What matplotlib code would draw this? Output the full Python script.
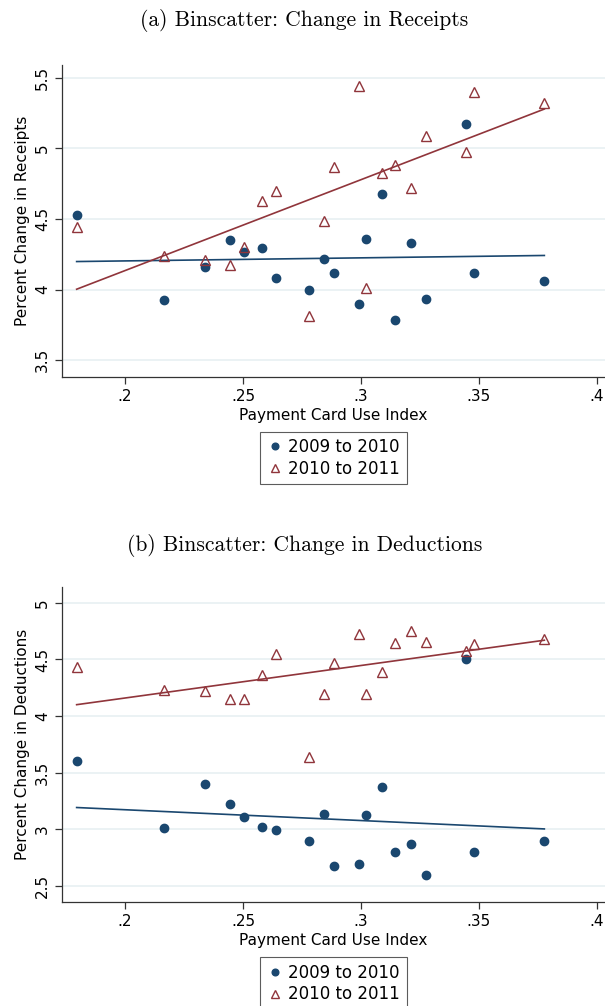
import numpy as np
import matplotlib
matplotlib.use("Agg")
import matplotlib.pyplot as plt

# Bin centers (Payment Card Use Index)
x_bins = [0.1795, 0.2166, 0.2341, 0.2446, 0.2503, 0.2582, 0.2638, 0.2779, 0.2843, 0.2887,
          0.2992, 0.3021, 0.3087, 0.3143, 0.3211, 0.3277, 0.3444, 0.3480, 0.3777]

# Panel (a): Percent change in receipts
receipts_0910 = [4.528, 3.929, 4.158, 4.354, 4.264, 4.292, 4.078, 3.995, 4.217, 4.120,
                 3.899, 4.358, 4.679, 3.783, 4.328, 3.932, 5.175, 4.120, 4.057]
receipts_1011 = [4.446, 4.236, 4.212, 4.170, 4.300, 4.630, 4.700, 3.814, 4.486, 4.866,
                 5.443, 4.012, 4.823, 4.882, 4.722, 5.090, 4.972, 5.399, 5.321]

# Panel (b): Percent change in deductions
deduct_0910 = [3.606, 3.016, 3.399, 3.228, 3.107, 3.019, 2.998, 2.901, 3.140, 2.680,
               2.698, 3.125, 3.373, 2.804, 2.871, 2.594, 4.508, 2.798, 2.901]
deduct_1011 = [4.434, 4.231, 4.219, 4.151, 4.154, 4.363, 4.552, 3.638, 4.198, 4.469,
               4.726, 4.192, 4.390, 4.646, 4.755, 4.652, 4.573, 4.634, 4.679]

# Fitted line endpoints (value at first and last bin)
fit_receipts_0910 = [4.198, 4.241]
fit_receipts_1011 = [4.002, 5.278]
fit_deduct_0910 = [3.193, 3.004]
fit_deduct_1011 = [4.101, 4.670]

x_ticks = [0.2, 0.25, 0.3, 0.35, 0.4]
x_ticklabels = [".2", ".25", ".3", ".35", ".4"]
yticks_a = [3.5, 4, 4.5, 5, 5.5]
yticklabels_a = ["3.5", "4", "4.5", "5", "5.5"]
yticks_b = [2.5, 3, 3.5, 4, 4.5, 5]
yticklabels_b = ["2.5", "3", "3.5", "4", "4.5", "5"]

NAVY = "#1a476f"
MAROON = "#90353b"
GRID = "#e8f0f2"

fig = plt.figure(figsize=(6.05, 10.06), dpi=100)

def panel(rect, title, y1, y2, f1, f2, ylabel, yticks, yticklabels, ylim, legend_y, title_off):
    ax = fig.add_axes(rect)
    ax.set_xlim(0.1733, 0.4034)
    ax.set_ylim(*ylim)
    ax.set_yticks(yticks)
    ax.set_yticklabels(yticklabels, rotation=90, va="center")
    ax.set_xticks(x_ticks)
    ax.set_xticklabels(x_ticklabels)
    ax.yaxis.grid(True, color=GRID, linewidth=1.2)
    ax.set_axisbelow(True)
    for s in ["top", "right"]:
        ax.spines[s].set_visible(False)
    for s in ["left", "bottom"]:
        ax.spines[s].set_linewidth(0.9)
        ax.spines[s].set_color("#333333")
    ax.tick_params(labelsize=11, length=5, width=0.9, direction="out", color="#333333")
    xs = [x_bins[0], x_bins[-1]]
    ax.plot(xs, f1, color=NAVY, lw=1.2, zorder=2)
    ax.plot(xs, f2, color=MAROON, lw=1.2, zorder=2)
    ax.plot(x_bins, y1, "o", color=NAVY, ms=6, mec=NAVY, ls="none",
            label="2009 to 2010", zorder=3)
    ax.plot(x_bins, y2, "^", mfc="none", mec=MAROON, mew=1.0, ms=7, ls="none",
            label="2010 to 2011", zorder=3)
    ax.set_xlabel("Payment Card Use Index", fontsize=11, labelpad=3)
    ax.set_ylabel(ylabel, fontsize=11, labelpad=4)
    leg = ax.legend(loc="upper center", bbox_to_anchor=(0.5, legend_y), ncol=1,
                    fontsize=12, frameon=True, fancybox=False, edgecolor="#333333",
                    handletextpad=0.3, handlelength=1.0, borderpad=0.4,
                    labelspacing=0.2, borderaxespad=0, markerscale=0.8)
    leg.get_frame().set_linewidth(0.8)
    fig.text(rect[0] + rect[2] / 2 - 0.048, rect[1] + rect[3] + title_off, title,
             ha="center", va="center", fontsize=15.5, family="cmr10")
    return ax

panel([0.1025, 0.6252, 0.8975, 0.3102], "(a) Binscatter: Change in Receipts",
      receipts_0910, receipts_1011, fit_receipts_0910, fit_receipts_1011,
      "Percent Change in Receipts", yticks_a, yticklabels_a, (3.38, 5.59), -0.175, 0.0447)
panel([0.1025, 0.1034, 0.8975, 0.3131], "(b) Binscatter: Change in Deductions",
      deduct_0910, deduct_1011, fit_deduct_0910, fit_deduct_1011,
      "Percent Change in Deductions", yticks_b, yticklabels_b, (2.359, 5.14), -0.176, 0.041)

fig.savefig("out.png", dpi=100)
